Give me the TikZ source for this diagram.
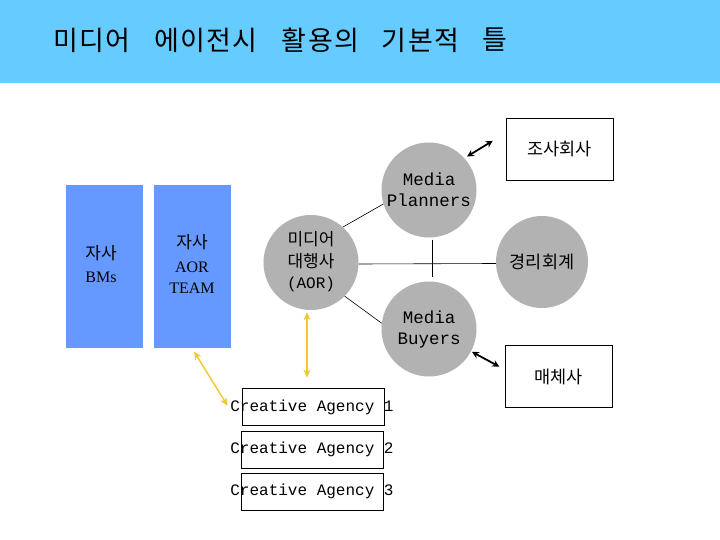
\documentclass[tikz,border=0pt]{standalone}
\usepackage{fontspec}
\usetikzlibrary{arrows.meta,calc}
\newfontfamily\kr{Noto Sans CJK KR}
\newfontfamily\mono{Liberation Mono}
\newfontfamily\serifl{Liberation Serif}
\definecolor{band}{RGB}{102,204,255}
\definecolor{bmblue}{RGB}{102,153,255}
\definecolor{circgray}{RGB}{178,178,178}
\definecolor{ayellow}{RGB}{242,200,46}
\tikzset{
  titleword/.style={inner sep=0pt, font=\kr\fontsize{27}{30}\selectfont\addfontfeature{LetterSpace=5}},
  blk/.style={fill=bmblue, draw=none, minimum width=77pt, minimum height=163pt, inner sep=0pt},
  circ/.style={circle, fill=circgray, draw=none, minimum size=95pt, inner sep=0pt, align=center},
  whitebox/.style={draw=black, line width=0.8pt, fill=white, minimum width=107pt, minimum height=62pt, inner sep=0pt},
  cabox/.style={draw=black, line width=0.8pt, minimum width=142pt, minimum height=37pt, inner sep=0pt},
  catext/.style={font=\mono\fontsize{16}{18}\selectfont, inner sep=0pt},
  thinline/.style={draw=black, line width=0.6pt},
  barrow/.style={draw=black, line width=1.8pt, {Stealth[length=7pt,width=7pt]}-{Stealth[length=7pt,width=7pt]}},
  yarrow/.style={draw=ayellow, line width=1.4pt, {Stealth[length=8pt,width=7pt]}-{Stealth[length=8pt,width=7pt]}},
}
\begin{document}
\begin{tikzpicture}[x=1pt, y=-1pt]
\useasboundingbox (0,0) rectangle (720,540);
\fill[white] (0,0) rectangle (720,540);
\fill[band] (0,0) rectangle (720,83);
\node[titleword] (tw1) at (92,40) {미디어};
\node[titleword] (tw2) at (206,40) {에이전시};
\node[titleword] (tw3) at (320.5,40) {활용의};
\node[titleword] (tw4) at (420.5,40) {기본적};
\node[titleword] (tw5) at (495,40) {틀};

% blue blocks
\node[blk] (bms) at (104.5,266.5) {};
\node[inner sep=0pt, font=\kr\fontsize{17}{20}\selectfont] (bmst1) at (101,253) {자사};
\node[inner sep=0pt, font=\serifl\fontsize{16}{19}\selectfont] (bmst2) at (101,277) {BMs};
\node[blk] (aor) at (192,266.5) {};
\node[inner sep=0pt, font=\kr\fontsize{17}{20}\selectfont] (aort1) at (192,242) {자사};
\node[inner sep=0pt, font=\serifl\fontsize{16}{19}\selectfont] (aort2) at (192,267) {AOR};
\node[inner sep=0pt, font=\serifl\fontsize{16}{19}\selectfont] (aort3) at (192,288) {TEAM};

% circles
\node[circ] (agency) at (311,262.5) {};
\node[inner sep=0pt, font=\kr\fontsize{17}{20}\selectfont] (ag1) at (311,239) {미디어};
\node[inner sep=0pt, font=\kr\fontsize{17}{20}\selectfont] (ag2) at (311,261) {대행사};
\node[inner sep=0pt, font=\mono\fontsize{16}{19}\selectfont] (ag3) at (311,284) {(AOR)};

\node[circ, font=\mono\fontsize{17.5}{21}\selectfont] (planners) at (429,190) {Media\\Planners};
\node[circ, font=\mono\fontsize{17.5}{21}\selectfont] (buyers) at (429,329) {Media\\Buyers};
\node[circ, minimum size=92pt, font=\kr\fontsize{17.5}{20}\selectfont] (acct) at (542,262) {경리회계};

% boxes
\node[whitebox, font=\kr\fontsize{17.5}{20}\selectfont] (survey) at (559.5,149) {조사회사};
\node[whitebox, font=\kr\fontsize{17.5}{20}\selectfont] (media) at (558.5,376.5) {매체사};

\node[cabox] (ca1) at (313,406.5) {};
\node[cabox] (ca2) at (312,450) {};
\node[cabox] (ca3) at (312,491.5) {};
\node[catext] (ca1t) at (312,407) {Creative Agency 1};
\node[catext] (ca2t) at (312,449) {Creative Agency 2};
\node[catext] (ca3t) at (312,491) {Creative Agency 3};

% connectors
\draw[thinline] (agency.48) -- (planners.197);
\draw[thinline] (agency.-45) -- (buyers.173);
\draw[thinline] ([yshift=-1.5]agency.east) -- ([yshift=-1.5]acct.west);
\draw[thinline, shorten <=2pt, shorten >=4pt] ([xshift=3]planners.south) -- ([xshift=3]buyers.north);

\draw[barrow, shorten <=3pt, shorten >=15pt] (planners.42) -- ([yshift=16]survey.west);
\draw[barrow, shorten <=1pt, shorten >=6pt] (buyers.-28) -- ([yshift=7]media.west);

\draw[yarrow, shorten <=2pt, shorten >=10pt] ([xshift=-4]agency.south) -- ([xshift=-4]agency.south |- ca1.north);
\draw[yarrow, shorten <=4pt, shorten >=5pt] (aor.south) -- ([yshift=-3]ca1t.west);
\end{tikzpicture}
\end{document}
